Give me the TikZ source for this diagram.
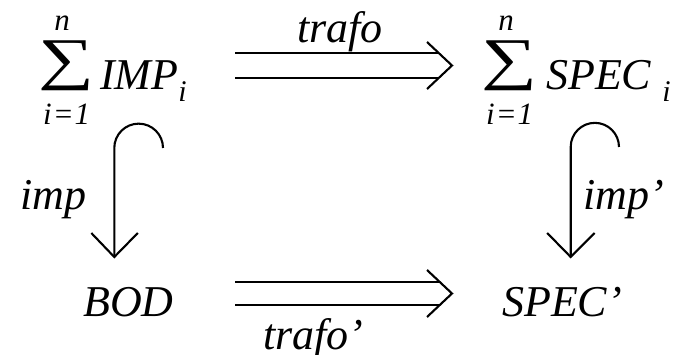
\documentclass[tikz,border=0pt]{standalone}
\usepackage{fontspec}
\usepackage{graphicx}
\setmainfont{Liberation Serif}
\usetikzlibrary{calc}
\tikzset{
  main/.style={inner sep=0pt, font=\fontsize{44}{48}\selectfont\itshape},
  small/.style={inner sep=0pt, font=\fontsize{31}{33}\selectfont\itshape},
  sumsym/.style={inner sep=0pt, font=\fontsize{44}{48}\selectfont},
  conn/.style={line width=2.1pt, line cap=butt, line join=miter},
}
\newcommand{\subi}{\raisebox{-12pt}{\fontsize{30}{30}\selectfont\itshape i}}
\begin{document}
\begin{tikzpicture}[x=1pt,y=-1pt]
\useasboundingbox (0,0) rectangle (683,355);
% top left
\node[sumsym] (sumL) at (66,65.5) {\resizebox*{56pt}{50pt}{∑}};
\node[small, anchor=base] (nL) at (62,31) {n};
\node[small, anchor=base west] (iL) at (43,125) {i\kern1pt=\kern1pt1};
\node[main, anchor=base west] (impT) at (100,90) {IMP\subi};
% top right
\node[sumsym] (sumR) at (509,65.5) {\resizebox*{56pt}{50pt}{∑}};
\node[small, anchor=base] (nR) at (506,31) {n};
\node[small, anchor=base west] (iR) at (486,125) {i\kern1pt=\kern1pt1};
\node[main, anchor=base west] (specT) at (546,90) {SPEC\hspace{11pt}\subi};
% bottom
\node[main, anchor=base west] (bod) at (83,317) {BOD};
\node[main, anchor=base west] (specB) at (502,317) {SPEC’};
% labels
\node[main, anchor=base] (trafo) at (340,43) {trafo};
\node[main, anchor=base west] (trafoB) at (263,350) {trafo’};
\node[main, anchor=base west] (impL) at (20,210) {imp};
\node[main, anchor=base west] (impR) at (583,210) {imp’};
% arrow coordinates
\coordinate (tS) at (235,65.5);
\coordinate (tE) at (452,65.5);
\coordinate (bS) at (235,293.5);
\coordinate (bE) at (452,293.5);
\coordinate (hL) at (163,148);
\coordinate (tipL) at (114.3,257);
\coordinate (hR) at (619,147);
\coordinate (tipR) at (570.7,257);
% top double arrow
\draw[conn] ($(tS)+(0,-12.2)$) -- ($(tE)+(-13,-12.2)$);
\draw[conn] ($(tS)+(0,12.2)$) -- ($(tE)+(-13,12.2)$);
\draw[conn] ($(tE)+(-25,-23.5)$) -- (tE) -- ($(tE)+(-25,23.5)$);
% bottom double arrow
\draw[conn] ($(bS)+(0,-11.5)$) -- ($(bE)+(-12,-11.5)$);
\draw[conn] ($(bS)+(0,11.5)$) -- ($(bE)+(-12,11.5)$);
\draw[conn] ($(bE)+(-25,-23.5)$) -- (bE) -- ($(bE)+(-25,23.5)$);
% left hook arrow
\draw[conn] (hL) arc[start angle=0, end angle=-180, radius=24.35] -- (tipL);
\draw[conn] ($(tipL)+(-23,-24)$) -- (tipL) -- ($(tipL)+(23.5,-24)$);
% right hook arrow
\draw[conn] (hR) arc[start angle=0, end angle=-180, radius=24.15] -- (tipR);
\draw[conn] ($(tipR)+(-23.5,-24)$) -- (tipR) -- ($(tipR)+(24,-24)$);
\end{tikzpicture}
\end{document}
